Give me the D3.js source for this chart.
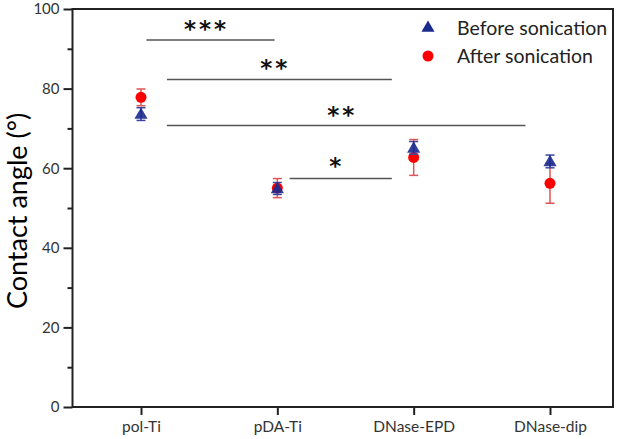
<!DOCTYPE html>
<html>
<head>
<meta charset="utf-8">
<script src="https://cdn.jsdelivr.net/npm/d3@7"></script>
<style>
  body { margin: 0; background: #fff; }
  svg { display: block; }
  text { font-family: Lato, "Open Sans", sans-serif; }
</style>
</head>
<body>
<div id="chart"></div>
<script>
// values
const categories = ["pol-Ti", "pDA-Ti", "DNase-EPD", "DNase-dip"];
const before = [73.6, 54.9, 65.1, 61.7];
const beforeErr = [1.6, 1.5, 1.6, 1.6];
const after = [77.8, 55.0, 62.7, 56.2];
const afterErr = [2.1, 2.4, 4.5, 5.0];

// significance brackets (x in category index units)
const sigLabels = ["***", "**", "**", "*"];
const sigFrom = [0.04, 0.19, 0.19, 1.09];
const sigTo = [0.98, 1.84, 2.82, 1.84];
const sigY = [92.2, 82.3, 70.7, 57.4];

const yTicks = [0, 20, 40, 60, 80, 100];
const yMinor = [10, 30, 50, 70, 90];

const W = 617, H = 439;
const box = { left: 72.5, right: 613, top: 9, bottom: 407 };
const blue = "#1b2a8e", red = "#ff0000";

const svg = d3.select("#chart").append("svg")
    .attr("width", W).attr("height", H);

const x = d3.scalePoint().domain(categories).range([141, 550]);
const y = d3.scaleLinear().domain([0, 100]).range([box.bottom, box.top]);
const xi = i => x(categories[0]) + i * x.step();

// frame
svg.append("rect")
    .attr("x", box.left).attr("y", box.top)
    .attr("width", box.right - box.left).attr("height", box.bottom - box.top)
    .attr("fill", "none").attr("stroke", "#222").attr("stroke-width", 2);

// y axis
const yAxis = svg.append("g")
    .attr("transform", `translate(${box.left},0)`)
    .call(d3.axisLeft(y).tickValues(yTicks).tickSize(9).tickPadding(4));
svg.append("g")
    .attr("transform", `translate(${box.left},0)`)
    .call(d3.axisLeft(y).tickValues(yMinor).tickSize(5).tickFormat(""))
    .call(g => g.select(".domain").remove());

// x axis
const xAxis = svg.append("g")
    .attr("transform", `translate(0,${box.bottom})`)
    .call(d3.axisBottom(x).tickSize(8).tickPadding(6).tickSizeOuter(0));
xAxis.select(".domain").remove();

svg.selectAll(".tick line").attr("stroke", "#222").attr("stroke-width", 2);
yAxis.select(".domain").remove();
svg.selectAll(".tick text")
    .attr("fill", "#333").style("font-size", "15px");
xAxis.selectAll(".tick text").style("font-size", "15.5px");

// y label
svg.append("text")
    .attr("transform", `translate(27,211) rotate(-90)`)
    .attr("text-anchor", "middle")
    .style("font-size", "27px")
    .attr("fill", "#000")
    .text("Contact angle (°)");

// significance lines
sigLabels.forEach((lab, i) => {
    svg.append("line")
        .attr("x1", xi(sigFrom[i])).attr("x2", xi(sigTo[i]))
        .attr("y1", y(sigY[i])).attr("y2", y(sigY[i]))
        .attr("stroke", "#555").attr("stroke-width", 1.5);
    svg.append("text")
        .attr("x", (xi(sigFrom[i]) + xi(sigTo[i])) / 2 - 4)
        .attr("y", y(sigY[i]) - (lab.length === 1 ? 5 : 3))
        .attr("text-anchor", "middle")
        .style("font-family", "'DejaVu Sans', sans-serif")
        .style("font-size", "23px")
        .style("font-weight", "bold")
        .style("letter-spacing", "3px")
        .attr("fill", "#111")
        .text(lab);
});

// error bars
function errBars(vals, errs, color) {
    const g = svg.append("g").attr("stroke", color).attr("stroke-width", 1.5);
    vals.forEach((v, i) => {
        const cx = x(categories[i]);
        const lo = y(v - errs[i]), hi = y(v + errs[i]);
        g.append("line").attr("x1", cx).attr("x2", cx).attr("y1", lo).attr("y2", hi);
        g.append("line").attr("x1", cx - 4.5).attr("x2", cx + 4.5).attr("y1", lo).attr("y2", lo);
        g.append("line").attr("x1", cx - 4.5).attr("x2", cx + 4.5).attr("y1", hi).attr("y2", hi);
    });
}
errBars(after, afterErr, "#e05555");

const tri = d3.symbol().type(d3.symbolTriangle).size(75);

svg.append("g").selectAll("circle")
    .data(after)
    .join("circle")
    .attr("cx", (d, i) => x(categories[i]))
    .attr("cy", d => y(d))
    .attr("r", 5.5)
    .attr("fill", red);

errBars(before, beforeErr, "#3a45a0");

svg.append("g").selectAll("path")
    .data(before)
    .join("path")
    .attr("d", tri)
    .attr("transform", (d, i) => `translate(${x(categories[i])},${y(d) + 1})`)
    .attr("fill", blue)
    .attr("fill-opacity", 0.9);

// legend
const legend = svg.append("g");
legend.append("path")
    .attr("d", tri)
    .attr("transform", "translate(428,28)")
    .attr("fill", blue);
legend.append("circle")
    .attr("cx", 428).attr("cy", 56).attr("r", 5.5)
    .attr("fill", red);
legend.append("text")
    .attr("x", 457).attr("y", 35)
    .style("font-size", "19.5px").attr("fill", "#222")
    .text("Before sonication");
legend.append("text")
    .attr("x", 457).attr("y", 63)
    .style("font-size", "19.5px").attr("fill", "#222")
    .text("After sonication");
</script>
</body>
</html>
